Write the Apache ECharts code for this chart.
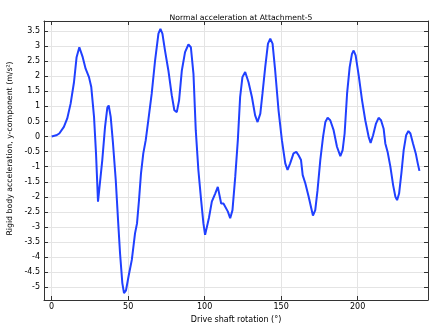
<!DOCTYPE html>
<html><head><meta charset="utf-8">
<script src="https://cdn.jsdelivr.net/npm/echarts@6/dist/echarts.min.js"></script>
<style>html,body{margin:0;padding:0;background:#fff}#c{width:438px;height:326px}</style>
</head><body><div id="c"></div>
<script>
const titleText = 'Normal acceleration at Attachment-5';
const xName = 'Drive shaft rotation (°)';
const yName = 'Rigid body acceleration, y-component (m/s²)';
const xTicks = [0, 50, 100, 150, 200];
const yTicks = [-5, -4.5, -4, -3.5, -3, -2.5, -2, -1.5, -1, -0.5, 0, 0.5, 1, 1.5, 2, 2.5, 3, 3.5];
const rotation = [0,3,5,8,10.2,12.4,14.6,16.3,18.1,20.3,22.2,24.4,25.9,27.7,29,30.3,31.4,33.1,34.9,36.4,37.3,38.6,40.1,41.9,43.4,44.7,46.2,47.3,48.6,50.4,52.4,54.5,55.8,57.1,58.4,59.9,61.5,63.2,65.4,67.6,69.8,71.1,72.4,74.1,76.3,78.5,80.2,81.8,83.3,85.1,87.2,89.4,91,92.7,94.2,95.9,97.7,99.2,100.3,101.4,102.8,104.7,106.9,108.6,110.8,112.3,113.4,115.2,116.7,118.2,120,121.7,123.2,124.7,126.5,128.7,130.9,133,134.6,136.4,137.8,139.6,141.4,142.9,144.4,146.1,148.3,150.5,152.7,154.2,155.9,158.1,159.9,161.4,163,164.1,165.8,168,169.7,170.8,172.3,173.8,175.6,177.4,178.9,180.4,182.1,184.3,186.5,188.7,190.2,191.5,193.1,194.8,196.3,197.4,198.7,200.7,202.9,205,207.2,208.5,210.1,212,213.7,215.3,217,218.1,219.6,221.4,223.2,224.7,225.8,227.1,228.6,230.1,231.7,233.2,234.5,236.2,238,239.3,240.4];
const accel = [0,0.04,0.1,0.32,0.6,1.09,1.8,2.63,2.96,2.63,2.25,1.97,1.64,0.65,-0.56,-2.16,-2.2,-0.78,0.32,0.96,1.03,0.65,-0.23,-1.44,-2.77,-3.87,-4.86,-5.19,-5.1,-4.6,-4.09,-3.21,-2.88,-2.11,-1.22,-0.56,-0.12,0.54,1.42,2.52,3.41,3.57,3.41,2.85,2.19,1.37,0.87,0.81,1.2,2.19,2.8,3.05,2.96,2.08,0.21,-1.11,-2.11,-2.88,-3.26,-3.21,-2.7,-2.16,-1.89,-1.67,-2.22,-2.22,-2.16,-2.49,-2.71,-2.44,-1.34,-0.12,1.31,1.97,2.14,1.8,1.31,0.7,0.48,0.76,1.42,2.3,3.08,3.24,3.08,2.19,0.87,-0.12,-0.89,-1.11,-0.89,-0.56,-0.51,-0.62,-0.78,-1.28,-1.55,-2.0,-2.38,-2.62,-2.44,-1.78,-0.78,-0.01,0.48,0.62,0.54,0.21,-0.34,-0.65,-0.45,0.1,1.42,2.3,2.74,2.85,2.69,2.03,1.2,0.54,-0.01,-0.21,0.04,0.43,0.62,0.54,0.26,-0.23,-0.51,-1.0,-1.61,-2.0,-2.11,-1.89,-1.22,-0.45,0.04,0.18,0.1,-0.23,-0.56,-0.89,-1.14];

const FONT = 'DejaVu Sans';
const xMin = -5, xMax = 246, yMin = -5.42, yMax = 3.83;
const tickStyle = {show: true, inside: true, length: 4, lineStyle: {color: '#333'}};
const chart = echarts.init(document.getElementById('c'), null, {renderer: 'canvas'});
chart.setOption({
  animation: false,
  title: {text: titleText, left: 236, top: 9, textAlign: 'center',
    textStyle: {fontFamily: FONT, fontSize: 7.7, fontWeight: 'normal', color: '#000'}},
  grid: {left: 44, right: 10, top: 21, bottom: 26, show: false, outerBoundsMode: 'none', containLabel: false},
  xAxis: [{
    type: 'value', min: xMin, max: xMax, name: xName, nameLocation: 'middle', nameGap: 12,
    nameTextStyle: {fontFamily: FONT, fontSize: 8, color: '#000'},
    axisLine: {show: true, onZero: false, lineStyle: {color: '#333', width: 1}},
    axisTick: Object.assign({customValues: xTicks}, tickStyle),
    axisLabel: {customValues: xTicks, fontFamily: FONT, fontSize: 8, color: '#000', margin: 3},
    splitLine: {show: true, lineStyle: {color: '#e4e4e4', width: 1}}
  }, {
    type: 'value', position: 'top', min: xMin, max: xMax,
    axisLine: {show: true, onZero: false, lineStyle: {color: '#333', width: 1}},
    axisTick: Object.assign({customValues: xTicks}, tickStyle),
    axisLabel: {show: false}, splitLine: {show: false}
  }],
  yAxis: [{
    type: 'value', min: yMin, max: yMax, name: yName, nameLocation: 'middle', nameGap: 29,
    nameTextStyle: {fontFamily: FONT, fontSize: 7.8, color: '#000', padding: [0, 0, 0, 24]},
    axisLine: {show: true, onZero: false, lineStyle: {color: '#333', width: 1}},
    axisTick: Object.assign({customValues: yTicks}, tickStyle),
    axisLabel: {customValues: yTicks, fontFamily: FONT, fontSize: 8, color: '#000', margin: 4},
    splitLine: {show: true, lineStyle: {color: '#e4e4e4', width: 1}}
  }, {
    type: 'value', position: 'right', min: yMin, max: yMax,
    axisLine: {show: true, onZero: false, lineStyle: {color: '#333', width: 1}},
    axisTick: Object.assign({customValues: yTicks}, tickStyle),
    axisLabel: {show: false}, splitLine: {show: false}
  }],
  series: [{
    type: 'line', xAxisIndex: 0, yAxisIndex: 0, showSymbol: false, symbol: 'none',
    data: rotation.map((r, i) => [r, accel[i]]),
    lineStyle: {color: '#2040ff', width: 2}
  }]
});
</script></body></html>
